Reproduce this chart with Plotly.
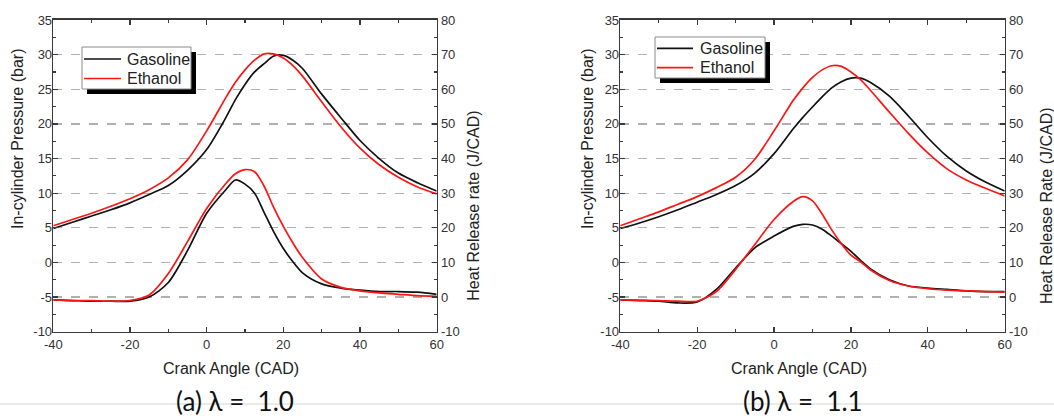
import plotly.graph_objects as go

# ---------------- data ----------------
cad = [-40, -35, -30, -25, -20, -15, -10, -5, 0, 5, 7.5, 10, 12.5, 15, 17.5,
       20, 22.5, 25, 30, 35, 40, 45, 50, 55, 60]

# (a) lambda = 1.0
p_gas_a = [4.9, 5.8, 6.7, 7.6, 8.6, 9.8, 11.1, 13.3, 16.3, 20.9, 23.5, 25.7, 27.5, 28.7, 29.8,
           29.9, 29.2, 28.0, 24.3, 20.9, 17.6, 15.0, 12.9, 11.5, 10.3]
p_eth_a = [5.3, 6.2, 7.1, 8.1, 9.2, 10.5, 12.2, 14.8, 19.0, 23.8, 26.0, 27.8, 29.2, 30.1, 30.1,
           29.5, 28.4, 26.9, 23.2, 19.6, 16.5, 14.1, 12.3, 10.9, 9.9]
hrr_gas_a = [-0.8, -1.0, -1.2, -1.2, -1.2, 0.0, 4.2, 13.4, 24.2, 31.0, 33.8, 32.6, 30.0, 24.4, 18.8,
             14.0, 10.2, 7.0, 3.8, 2.6, 2.0, 1.6, 1.6, 1.4, 0.8]
hrr_eth_a = [-0.8, -1.0, -1.0, -1.2, -1.0, 0.6, 6.8, 16.0, 25.6, 32.8, 35.6, 36.8, 36.2, 32.0, 25.8,
             20.4, 15.6, 11.4, 5.2, 2.8, 1.8, 1.2, 0.8, 0.4, 0.2]

# (b) lambda = 1.1
p_gas_b = [4.9, 5.7, 6.6, 7.6, 8.7, 9.8, 11.1, 12.9, 15.7, 19.3, 20.95, 22.45, 23.9, 25.2, 26.1,
           26.6, 26.6, 26.0, 24.0, 21.1, 18.0, 15.3, 13.2, 11.6, 10.3]
p_eth_b = [5.3, 6.3, 7.3, 8.4, 9.5, 10.8, 12.3, 14.9, 19.0, 23.4, 25.2, 26.7, 27.8, 28.4, 28.3,
           27.5, 26.4, 24.9, 21.7, 18.6, 15.8, 13.5, 11.9, 10.7, 9.6]
hrr_gas_b = [-0.8, -1.0, -1.2, -1.7, -1.4, 2.2, 8.4, 14.2, 17.6, 20.4, 21.0, 20.8, 19.6, 17.6, 15.4,
             13.2, 10.6, 8.2, 5.0, 3.2, 2.6, 2.2, 1.8, 1.6, 1.6]
hrr_eth_b = [-0.8, -0.9, -1.0, -1.2, -1.2, 1.6, 8.0, 15.2, 22.4, 27.6, 29.0, 27.8, 24.0, 19.4, 15.4,
             12.1, 10.2, 7.9, 4.8, 3.2, 2.4, 2.0, 1.8, 1.6, 1.4]

fuels = ["Gasoline", "Ethanol"]
x_ticks = [-40, -20, 0, 20, 40, 60]
p_ticks = [-10, -5, 0, 5, 10, 15, 20, 25, 30, 35]
hrr_ticks = [-10, 0, 10, 20, 30, 40, 50, 60, 70, 80]
captions = ["(a) \u03bb =\u00a0 1.0", "(b) \u03bb =\u00a0 1.1"]
left_titles = ["In-cylinder Pressure (bar)", "In-cylinder Pressure (bar)"]
right_titles = ["Heat Release rate (J/CAD)", "Heat Release Rate (J/CAD)"]
x_title = "Crank Angle (CAD)"

# ---------------- styling ----------------
W, H = 1054, 418
colors = {"Gasoline": "#111111", "Ethanol": "#ff1414"}
FONT = "Liberation Sans, Arial, sans-serif"
AX = "#3a3a3a"

fig = go.Figure()

panels = [
    dict(p=[p_gas_a, p_eth_a], h=[hrr_gas_a, hrr_eth_a], xa="x", ya="y", ya2="y2"),
    dict(p=[p_gas_b, p_eth_b], h=[hrr_gas_b, hrr_eth_b], xa="x2", ya="y3", ya2="y4"),
]

for pn in panels:
    for series, yax in ((pn["p"], pn["ya"]), (pn["h"], pn["ya2"])):
        for i, fuel in enumerate(fuels):
            fig.add_trace(go.Scatter(
                x=cad, y=series[i], mode="lines", name=fuel,
                line=dict(color=colors[fuel], width=1.7, shape="spline", smoothing=0.8),
                xaxis=pn["xa"], yaxis=yax, showlegend=False, hoverinfo="skip"))

def px_x(v):
    return v / W

def px_y(v):
    return 1 - v / H

dom_a = [px_x(53.3), px_x(436.7)]
dom_b = [px_x(620.3), px_x(1004.7)]
dom_y = [px_y(331.7), px_y(20)]

tickfont = dict(family=FONT, size=13, color="#333333")

def lab(vals):
    return [str(v) for v in vals]

def xaxis(dom, anchor):
    return dict(domain=dom, anchor=anchor, range=[-40, 60], tickvals=x_ticks, ticktext=lab(x_ticks),
                showline=True, linecolor=AX, linewidth=1.6, mirror="ticks",
                ticks="inside", ticklen=5, tickwidth=1.3, tickcolor=AX, ticklabelstandoff=0,
                minor=dict(ticks="inside", dtick=10, ticklen=3, tickwidth=1.2, tickcolor=AX, showgrid=False),
                showgrid=False, zeroline=False, tickfont=tickfont, fixedrange=True, automargin=False)

def yleft(anchor):
    return dict(domain=dom_y, anchor=anchor, range=[-10, 35], tickvals=p_ticks, ticktext=lab(p_ticks),
                showline=True, linecolor=AX, linewidth=1.6,
                ticks="inside", ticklen=5, tickwidth=1.3, tickcolor=AX, ticklabelstandoff=-3,
                minor=dict(ticks="inside", dtick=2.5, ticklen=3, tickwidth=1.2, tickcolor=AX, showgrid=False),
                showgrid=True, gridcolor="#b0b0b0", gridwidth=1.2, griddash="dash",
                zeroline=False, tickfont=tickfont, fixedrange=True, automargin=False)

def yright(anchor, over):
    return dict(domain=dom_y, anchor=anchor, overlaying=over, side="right",
                range=[-10, 80], tickvals=hrr_ticks, ticktext=lab(hrr_ticks),
                showline=True, linecolor=AX, linewidth=1.6,
                ticks="inside", ticklen=5, tickwidth=1.3, tickcolor=AX,
                minor=dict(ticks="inside", dtick=5, ticklen=3, tickwidth=1.2, tickcolor=AX, showgrid=False),
                showgrid=False, zeroline=False, tickfont=tickfont, fixedrange=True, automargin=False)

fig.update_layout(
    width=W, height=H,
    margin=dict(l=0, r=0, t=0, b=0, pad=0, autoexpand=False),
    paper_bgcolor="white", plot_bgcolor="white",
    xaxis=xaxis(dom_a, "y"),
    yaxis=yleft("x"),
    yaxis2=yright("x", "y"),
    xaxis2=xaxis(dom_b, "y3"),
    yaxis3=yleft("x2"),
    yaxis4=yright("x2", "y3"),
    showlegend=False,
)

# ---------------- legends (boxed, with drop shadow) ----------------
legend_boxes = [dict(x0=82, y0=47, x1=191, y1=89, lx0=84, lx1=121, ty=[59, 78.5], tx=125),
                dict(x0=655, y0=37, x1=765, y1=78, lx0=657, lx1=693, ty=[48.3, 67.7], tx=698)]
ann = []
for lb in legend_boxes:
    fig.add_shape(type="rect", xref="paper", yref="paper",
                  x0=px_x(lb["x0"] + 5), x1=px_x(lb["x1"] + 5),
                  y0=px_y(lb["y1"] + 5), y1=px_y(lb["y0"] + 5),
                  fillcolor="black", line=dict(width=0), layer="above")
    fig.add_shape(type="rect", xref="paper", yref="paper",
                  x0=px_x(lb["x0"]), x1=px_x(lb["x1"]), y0=px_y(lb["y1"]), y1=px_y(lb["y0"]),
                  fillcolor="white", line=dict(color="#8a8a8a", width=1), layer="above")
    for fuel, ty in zip(fuels, lb["ty"]):
        fig.add_shape(type="line", xref="paper", yref="paper",
                      x0=px_x(lb["lx0"]), x1=px_x(lb["lx1"]), y0=px_y(ty), y1=px_y(ty),
                      line=dict(color=colors[fuel], width=1.7), layer="above")
        ann.append(dict(text=fuel, x=px_x(lb["tx"]), y=px_y(ty), xanchor="left",
                        font=dict(family=FONT, size=16, color="#222222")))

# thin separator line behind captions
fig.add_shape(type="line", xref="paper", yref="paper", x0=0, x1=1,
              y0=px_y(404), y1=px_y(404), line=dict(color="#d4d4d4", width=1), layer="below")

title_font = dict(family=FONT, size=16, color="#222222")
for k, (xl, xr, xc, capx) in enumerate([(17, 472.7, 231, 235), (587, 1046, 799, 803)]):
    ann.append(dict(text=left_titles[k], x=px_x(xl), y=px_y(139), textangle=-90, font=title_font))
    ann.append(dict(text=right_titles[k], x=px_x(xr), y=px_y(206), textangle=-90, font=title_font))
    ann.append(dict(text=x_title, x=px_x(xc), y=px_y(368), font=title_font))
    ann.append(dict(text=captions[k], x=px_x(capx), y=px_y(401),
                    font=dict(family="Lato, Open Sans, sans-serif", size=26, color="#111111")))
for a in ann:
    a.setdefault("xanchor", "center")
    a.update(xref="paper", yref="paper", showarrow=False, yanchor="middle")
fig.update_layout(annotations=ann)

fig.write_html("out.html", config={"displayModeBar": False, "staticPlot": True},
               post_script="document.body.style.margin='0';document.body.style.overflow='hidden';")
